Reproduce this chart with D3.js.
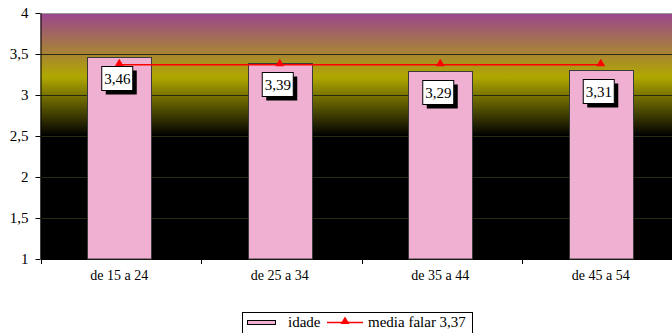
<!DOCTYPE html>
<html><head><meta charset="utf-8">
<script src="https://cdn.jsdelivr.net/npm/d3@7/dist/d3.min.js"></script>
</head><body style="margin:0"><svg id="c" width="672" height="333"><style>text{font-family:'Times New Roman',serif !important;}</style></svg>
<script>
const categories = ["de 15 a 24","de 25 a 34","de 35 a 44","de 45 a 54"];
const idade = [3.46, 3.39, 3.29, 3.31];
const mediaFalar = [3.37, 3.37, 3.37, 3.37];
const valueLabels = ["3,46","3,39","3,29","3,31"];
const yTicks = [1, 1.5, 2, 2.5, 3, 3.5, 4];
const yTickLabels = ["1","1,5","2","2,5","3","3,5","4"];
const seriesNames = ["idade","media falar 3,37"];

const FONT = "Times New Roman";
const svg = d3.select("#c");
const L = 40.5, R = 682.5, T = 13, B = 259;
const x = d3.scaleBand().domain(categories).range([L - 1.5, R - 1.5]).paddingInner(0.6).paddingOuter(0.3);
const xb = d3.scaleBand().domain(categories).range([L, R]);
const y = d3.scaleLinear().domain([1, 4]).range([B, T]);

const defs = svg.append("defs");
const g = defs.append("linearGradient").attr("id","bg").attr("x1",0).attr("y1",0).attr("x2",0).attr("y2",1);
g.append("stop").attr("offset","0").attr("stop-color","#9b468f");
g.append("stop").attr("offset","0.26").attr("stop-color","#b0a800");
g.append("stop").attr("offset","0.5").attr("stop-color","#000000");
g.append("stop").attr("offset","1").attr("stop-color","#000000");

svg.append("rect").attr("x",L).attr("y",T).attr("width",R-L).attr("height",B-T).attr("fill","url(#bg)");
svg.append("line").attr("x1",L).attr("x2",R).attr("y1",T+0.5).attr("y2",T+0.5).attr("stroke","#9a9a9a");

svg.append("g").selectAll("line").data(yTicks.filter(d=>d>1 && d<4)).join("line")
  .attr("x1",L).attr("x2",R).attr("y1",d=>Math.round(y(d))+0.5).attr("y2",d=>Math.round(y(d))+0.5)
  .attr("stroke","#2a2a10").attr("stroke-width",1);

const ya = d3.axisLeft(y).tickValues(yTicks).tickFormat((d,i)=>yTickLabels[i]).tickSize(5).tickSizeOuter(0);
const yg = svg.append("g").attr("transform",`translate(${L},0)`).call(ya).attr("font-family", FONT).attr("font-size", 15);
yg.select(".domain").attr("stroke","#000");
yg.selectAll(".tick line").attr("stroke","#000");
yg.selectAll("text").attr("font-family", FONT).attr("font-size", 15).attr("fill","#000").attr("x",-12).attr("dy","0.32em");

const xa = d3.axisBottom(xb).tickSize(0).tickSizeOuter(0);
const xg = svg.append("g").attr("transform",`translate(-1.5,${B})`).call(xa).attr("font-family", FONT).attr("font-size", 14);
xg.select(".domain").attr("stroke","#000").attr("transform","translate(1.5,0)");
xg.selectAll("text").attr("font-family", FONT).attr("font-size", 14).attr("fill","#000").attr("y",11).attr("dy","0.71em");
svg.append("g").selectAll("line").data(categories).join("line")
  .attr("x1",d=>Math.round(xb(d))+0.5).attr("x2",d=>Math.round(xb(d))+0.5).attr("y1",B).attr("y2",B+5).attr("stroke","#000");

svg.append("g").selectAll("rect").data(idade).join("rect")
  .attr("x",(d,i)=>Math.round(x(categories[i]))+0.5).attr("width",Math.round(x.bandwidth()))
  .attr("y",d=>Math.round(y(d))+0.5).attr("height",d=>B-Math.round(y(d))-0.5)
  .attr("fill","#efb0d2").attr("stroke","#3a3a3a").attr("stroke-width",1);

const lx = (d,i)=>x(categories[i])+x.bandwidth()/2;
svg.append("path").datum(mediaFalar).attr("fill","none").attr("stroke","#ff0000").attr("stroke-width",1.5)
  .attr("d", d3.line().x(lx).y(d=>y(d)));
svg.append("g").selectAll("path").data(mediaFalar).join("path")
  .attr("transform",(d,i)=>`translate(${lx(d,i)},${y(d)})`)
  .attr("d","M0,-6L4.5,1.5L-4.5,1.5Z").attr("fill","#ff0000");

const lg = svg.append("g").selectAll("g").data(idade).join("g")
  .attr("transform",(d,i)=>`translate(${x(categories[i])+x.bandwidth()/2-2},${Math.round(y(d)+22)})`);
lg.append("rect").attr("x",-11.5).attr("y",-8.5).attr("width",31).attr("height",24).attr("fill","#000");
lg.append("rect").attr("x",-15.5).attr("y",-12.5).attr("width",31).attr("height",24).attr("fill","#fff").attr("stroke","#000");
lg.append("text").attr("text-anchor","middle").attr("y",5).attr("font-family", FONT).attr("font-size",15).text((d,i)=>valueLabels[i]);

const leg = svg.append("g");
leg.append("rect").attr("x",242.5).attr("y",312.5).attr("width",230).attr("height",30).attr("fill","#fff").attr("stroke","#000");
leg.append("rect").attr("x",247.5).attr("y",320.5).attr("width",28).attr("height",4).attr("fill","#efb0d2").attr("stroke","#000");
leg.append("text").attr("x",288).attr("y",327).attr("font-family", FONT).attr("font-size",15).text(seriesNames[0]);
leg.append("line").attr("x1",327).attr("x2",363).attr("y1",322.5).attr("y2",322.5).attr("stroke","#ff0000").attr("stroke-width",1.5);
leg.append("path").attr("transform","translate(345,322.5)").attr("d","M0,-6L4.5,1.5L-4.5,1.5Z").attr("fill","#ff0000");
leg.append("text").attr("x",368).attr("y",327).attr("font-family", FONT).attr("font-size",15).text(seriesNames[1]);
</script></body></html>
